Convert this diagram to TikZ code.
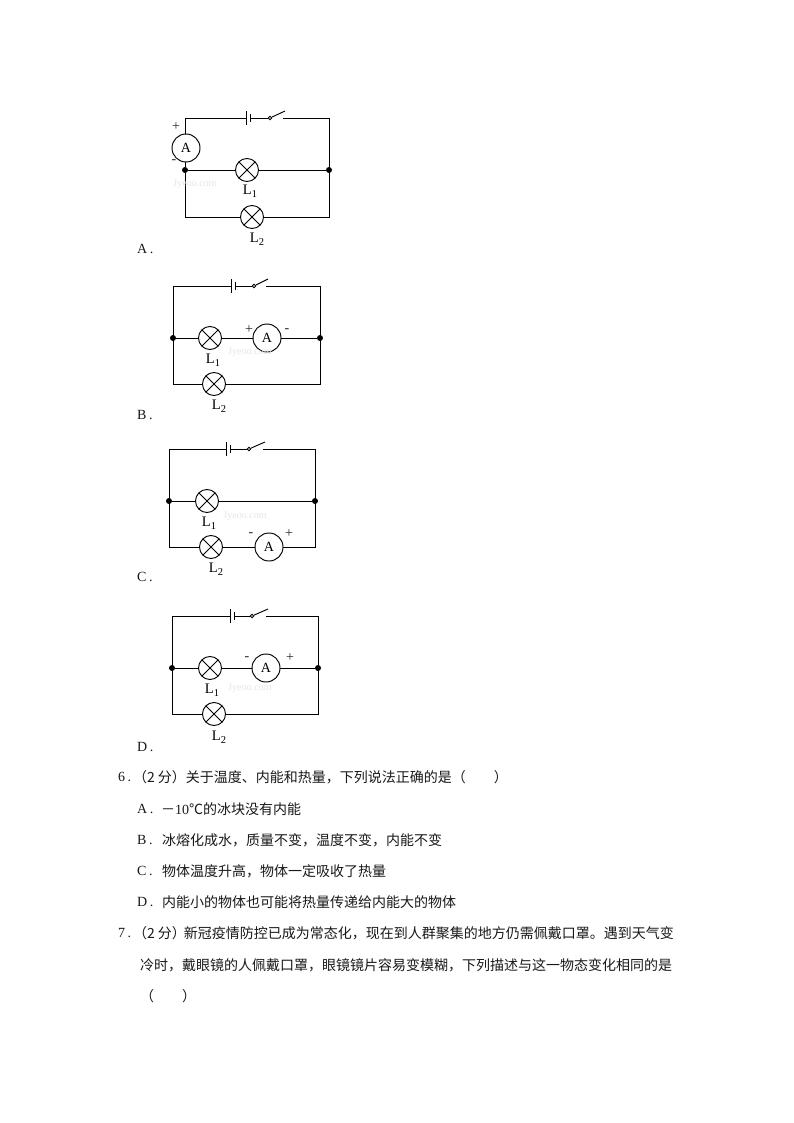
\documentclass[tikz,border=0pt]{standalone}
\usepackage{fontspec}
\setmainfont{Liberation Serif}
\newfontfamily\cjkf{Noto Sans CJK SC}[Scale=1]
\tikzset{
  x=1pt,y=-1pt,
  wire/.style={draw=black,line width=0.95pt},
  lamp/.style={circle,draw=black,line width=0.95pt,fill=white,minimum size=23pt,inner sep=0pt,
    path picture={\draw[line width=0.85pt] (path picture bounding box.south west)--(path picture bounding box.north east)
      (path picture bounding box.north west)--(path picture bounding box.south east);}},
  meter/.style={circle,draw=black,line width=0.95pt,fill=white,minimum size=28pt,inner sep=0pt,font=\fontsize{14}{14}\selectfont},
  junction/.style={circle,fill=black,minimum size=6pt,inner sep=0pt},
  contact/.style={circle,draw=black,line width=0.8pt,fill=white,minimum size=3.6pt,inner sep=0pt},
  lbl/.style={inner sep=0pt,yshift=-1pt,font=\fontsize{14.5}{14.5}\selectfont},
  sign/.style={inner sep=0pt,font=\fontsize{14}{14}\selectfont,text=black!85},
  opt/.style={inner sep=0pt,anchor=west,font=\fontsize{14}{14}\selectfont,text=black!90},
  txt/.style={inner sep=0pt,anchor=west,font=\cjkf\fontsize{14}{14}\selectfont,text=black!90},
  wmark/.style={inner sep=0pt,font=\fontsize{10}{10}\selectfont,text=black!10},
}
\newcommand{\subdig}[1]{\raisebox{-3pt}{\fontsize{10.5}{10.5}\selectfont #1}}
\newcommand{\optdot}[1]{#1\hspace{2.5pt}.}
\newcommand{\batsw}[5]{% prefix, long plate x, top y, contact x, tip x
  \coordinate (#1bp) at (#2,#3);
  \coordinate (#1bn) at (#2+4,#3);
  \draw[wire] (#1bp)+(0,-7)--+(0,7);
  \draw[wire] (#1bn)+(0,-4)--+(0,4);
  \node[contact] (#1sw) at (#4,#3) {};
  \coordinate (#1tip) at (#5,#3-7);
  \coordinate (#1res) at (#5-2,#3);
  \draw[wire] (#1sw)--(#1tip);
  \draw[wire] (#1bn)--(#1sw);
}
\begin{document}
\begin{tikzpicture}
\useasboundingbox (0,0) rectangle (794,1123);
\fill[white] (0,0) rectangle (794,1123);

% ---------- A
\coordinate (atl) at (185,118); \coordinate (atr) at (329,118);
\coordinate (abl) at (185,217); \coordinate (abr) at (329,217);
\node[junction] (aml) at (185,170) {}; \node[junction] (amr) at (329,170) {};
\batsw{a}{246}{118}{270}{285}
\node[meter] (am) at (186,148) {A};
\node[lamp] (al1) at (247,170) {};
\node[lamp] (al2) at (252,217) {};
\draw[wire] (am.north-|atl)--(atl)--(abp) (ares)--(atr)--(abr)--(al2)--(abl)--(aml)--(am.south-|aml);
\draw[wire] (aml)--(al1)--(amr);
\node[lbl] (atl1) at (250,190) {L\subdig{1}};
\node[lbl] (atl2) at (257,238) {L\subdig{2}};
\node[sign] (aplus) at (176,127) {+};
\node[sign] (aminus) at (174,162) {-};
\node[wmark] (awm) at (195,184) {Jyeoo.com};
\node[opt] (aopt) at (137,249) {\optdot{A}};

% ---------- B
\coordinate (btl) at (173,286); \coordinate (btr) at (320,286);
\coordinate (bbl) at (173,384); \coordinate (bbr) at (320,384);
\node[junction] (bml) at (173,338) {}; \node[junction] (bmr) at (320,338) {};
\batsw{b}{231}{286}{254}{268}
\node[meter] (bm) at (267,338) {A};
\node[lamp] (bl1) at (210,338) {};
\node[lamp] (bl2) at (214,384) {};
\draw[wire] (bbp)--(btl)--(bbl)--(bl2)--(bbr)--(btr)--(bres);
\draw[wire] (bml)--(bl1)--(bm)--(bmr);
\node[lbl] (btl1) at (213,359) {L\subdig{1}};
\node[lbl] (btl2) at (219,405) {L\subdig{2}};
\node[sign] (bplus) at (249,330) {+};
\node[sign] (bminus) at (287,331) {-};
\node[wmark] (bwm) at (250,352) {Jyeoo.com};
\node[opt] (bopt) at (137,415) {\optdot{B}};

% ---------- C
\coordinate (ctl) at (169,449); \coordinate (ctr) at (315,449);
\coordinate (cbl) at (169,547); \coordinate (cbr) at (315,547);
\node[junction] (cml) at (169,501) {}; \node[junction] (cmr) at (315,501) {};
\batsw{c}{226}{449}{249}{265}
\node[meter] (cm) at (269,547) {A};
\node[lamp] (cl1) at (207,501) {};
\node[lamp] (cl2) at (211,547) {};
\draw[wire] (cbp)--(ctl)--(cbl)--(cl2)--(cm)--(cbr)--(ctr)--(cres);
\draw[wire] (cml)--(cl1)--(cmr);
\node[lbl] (ctl1) at (209,522) {L\subdig{1}};
\node[lbl] (ctl2) at (216,568) {L\subdig{2}};
\node[sign] (cminus) at (251,535) {-};
\node[sign] (cplus) at (289,534) {+};
\node[wmark] (cwm) at (245,516) {Jyeoo.com};
\node[opt] (copt) at (137,577) {\optdot{C}};

% ---------- D
\coordinate (dtl) at (172,616); \coordinate (dtr) at (318,616);
\coordinate (dbl) at (172,714); \coordinate (dbr) at (318,714);
\node[junction] (dml) at (172,668) {}; \node[junction] (dmr) at (318,668) {};
\batsw{d}{230}{616}{252}{268}
\node[meter] (dm) at (266,668) {A};
\node[lamp] (dl1) at (210,668) {};
\node[lamp] (dl2) at (214,714) {};
\draw[wire] (dbp)--(dtl)--(dbl)--(dl2)--(dbr)--(dtr)--(dres);
\draw[wire] (dml)--(dl1)--(dm)--(dmr);
\node[lbl] (dtl1) at (212,689) {L\subdig{1}};
\node[lbl] (dtl2) at (219,736) {L\subdig{2}};
\node[sign] (dminus) at (247,659) {-};
\node[sign] (dplus) at (290,658) {+};
\node[wmark] (dwm) at (250,688) {Jyeoo.com};
\node[opt] (dopt) at (137,747) {\optdot{D}};

% ---------- Question 6
\node[opt] (q6n) at (118,777) {\optdot{6}};
\node[txt] (q6) at (133,777) {（2\hspace{3pt}分）关于温度、内能和热量，下列说法正确的是（　　）};
\node[opt] (q6ao) at (137,809) {\optdot{A}};
\node[txt] (q6a) at (161,809) {－{\rmfamily 10}℃的冰块没有内能};
\node[opt] (q6bo) at (137,840) {\optdot{B}};
\node[txt] (q6b) at (162,840) {冰熔化成水，质量不变，温度不变，内能不变};
\node[opt] (q6co) at (137,871) {\optdot{C}};
\node[txt] (q6c) at (162,871) {物体温度升高，物体一定吸收了热量};
\node[opt] (q6do) at (137,902) {\optdot{D}};
\node[txt] (q6d) at (162,902) {内能小的物体也可能将热量传递给内能大的物体};

% ---------- Question 7
\node[opt] (q7n) at (118,933) {\optdot{7}};
\node[txt] (q7a) at (133,933) {（2\hspace{3pt}分）\hspace{-2pt}新冠疫情防控已成为常态化，现在到人群聚集的地方仍需佩戴口罩。遇到天气变};
\node[txt] (q7b) at (140,965) {冷时，戴眼镜的人佩戴口罩，眼镜镜片容易变模糊，下列描述与这一物态变化相同的是};
\node[txt] (q7c) at (140,996) {（　　）};
\end{tikzpicture}
\end{document}
